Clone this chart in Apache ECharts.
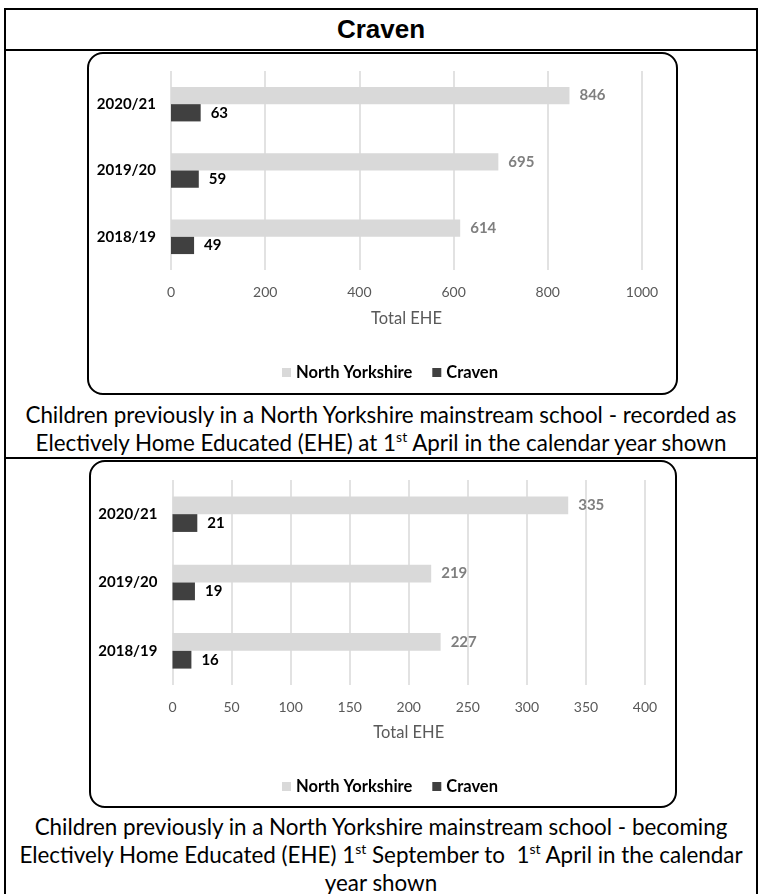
<!DOCTYPE html>
<html>
<head>
<meta charset="utf-8">
<script src="https://cdn.jsdelivr.net/npm/echarts@6.0.0/dist/echarts.min.js"></script>
<style>
  html, body { margin:0; padding:0; background:#fff; }
  body { width:758px; height:894px; position:relative; overflow:hidden; }
  .ln { position:absolute; background:#000; }
  .box { position:absolute; border:2px solid #000; border-radius:16px; box-sizing:border-box; pointer-events:none; }
  .chart { position:absolute; }
  .title { position:absolute; left:5px; width:752px; top:10px; height:39px; line-height:39px; text-align:center;
           font-family:"Liberation Sans", Arial, sans-serif; font-weight:bold; font-size:26px; color:#000; }
  .cap { position:absolute; left:5px; width:752px; text-align:center; font-family:Lato, "Open Sans", sans-serif;
         font-size:22.4px; line-height:28px; color:#000; white-space:nowrap; }
  .cap sup { font-size:14px; line-height:0; vertical-align:9px; }
</style>
</head>
<body>
<div class="ln" style="left:4px;top:8px;width:754px;height:2px"></div>
<div class="ln" style="left:4px;top:8px;width:2px;height:886px"></div>
<div class="ln" style="left:756px;top:8px;width:2px;height:886px"></div>
<div class="ln" style="left:4px;top:49px;width:754px;height:2px"></div>
<div class="ln" style="left:4px;top:457px;width:754px;height:2px"></div>
<div class="title">Craven</div>

<div id="c1" class="chart" style="left:87px;top:52px;width:591px;height:343px"></div>
<div class="box" style="left:87px;top:52px;width:591px;height:343px"></div>
<div class="cap" style="top:401px">Children previously in a North Yorkshire mainstream school - recorded as<br>Electively Home Educated (EHE) at 1<sup>st</sup> April in the calendar year shown</div>

<div id="c2" class="chart" style="left:89px;top:460px;width:588px;height:348px"></div>
<div class="box" style="left:89px;top:460px;width:588px;height:348px"></div>
<div class="cap" style="top:813px">Children previously in a North Yorkshire mainstream school - becoming<br>Electively Home Educated (EHE) 1<sup>st</sup> September to &nbsp;1<sup>st</sup> April in the calendar<br>year shown</div>

<script>
// ---- data ----
const categories = ['2020/21', '2019/20', '2018/19'];
const seriesNames = ['North Yorkshire', 'Craven'];
const nyRecorded = [846, 695, 614];
const cravenRecorded = [63, 59, 49];
const nyBecoming = [335, 219, 227];
const cravenBecoming = [21, 19, 16];
const axisName = 'Total EHE';
const axis1 = { min: 0, max: 1000, interval: 200 };
const axis2 = { min: 0, max: 400, interval: 50 };

const FONT = 'Lato, "Open Sans", sans-serif';

function makeOption(ny, cr, ax, lay) {
  return {
    animation: false,
    textStyle: { fontFamily: FONT },
    grid: { left: lay.gl, top: lay.gt, width: lay.gw, height: lay.gh, containLabel: false, outerBoundsMode: 'none' },
    legend: {
      data: seriesNames, left: lay.ll, top: lay.lt, icon: 'rect', itemWidth: 9, itemHeight: 9, itemGap: 20,
      textStyle: { fontFamily: FONT, fontSize: 16.5, fontWeight: 'bold', color: '#000' }
    },
    xAxis: {
      type: 'value', min: ax.min, max: ax.max, interval: ax.interval,
      axisLine: { show: false }, axisTick: { show: false },
      splitLine: { show: true, lineStyle: { color: '#d9d9d9', width: 1.5 } },
      axisLabel: { color: '#595959', fontSize: 14, margin: 15, fontFamily: FONT, formatter: v => String(v) },
      name: axisName, nameLocation: 'middle', nameGap: lay.ng,
      nameTextStyle: { color: '#595959', fontSize: 16.5, fontFamily: FONT }
    },
    yAxis: {
      type: 'category', data: categories, inverse: true,
      axisLine: { show: false }, axisTick: { show: false }, splitLine: { show: false },
      axisLabel: { color: '#000', fontWeight: 'bold', fontSize: 15, margin: 15, fontFamily: FONT }
    },
    series: [
      { name: seriesNames[0], type: 'bar', data: ny, barWidth: '26%', barGap: '0%',
        itemStyle: { color: '#d9d9d9' },
        label: { show: true, position: 'right', distance: 10, color: '#7f7f7f', fontWeight: 'bold', fontSize: 15, fontFamily: FONT } },
      { name: seriesNames[1], type: 'bar', data: cr, barWidth: '26%', barGap: '0%',
        itemStyle: { color: '#404040' },
        label: { show: true, position: 'right', distance: 10, color: '#000', fontWeight: 'bold', fontSize: 15, fontFamily: FONT } }
    ]
  };
}

const ch1 = echarts.init(document.getElementById('c1'), null, { renderer: 'canvas' });
ch1.setOption(makeOption(nyRecorded, cravenRecorded, axis1,
  { gl: 84, gt: 19, gw: 471, gh: 199, ll: 190, lt: 307, ng: 40 }));

const ch2 = echarts.init(document.getElementById('c2'), null, { renderer: 'canvas' });
ch2.setOption(makeOption(nyBecoming, cravenBecoming, axis2,
  { gl: 83.5, gt: 20, gw: 472.5, gh: 205, ll: 188, lt: 313, ng: 39 }));
</script>
</body>
</html>
